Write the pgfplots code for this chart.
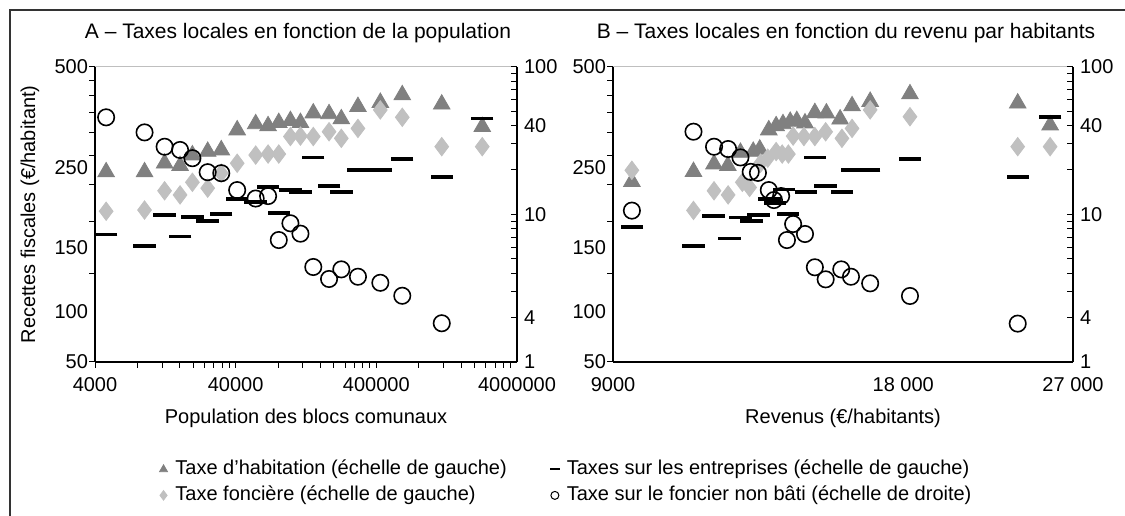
\documentclass[border=0pt]{standalone}
\usepackage{pgfplots}
\usepackage{pgfplotstable}
\pgfplotsset{compat=1.18}
\usepackage{fontspec}
\setmainfont{Liberation Sans}

\definecolor{thgray}{HTML}{808080}
\definecolor{tfgray}{HTML}{C0C0C0}

% panel A: groups of communes by population
\pgfplotstableread{
pop      th     tf     te     tnb
4800     220    162    135    45.4
9000     220    163.5  123.5  35.9
12500    235.5  190    157    28.7
16100    231    184    133    27.3
19700    251    203    155    24.0
25300    258    194    150    19.3
31600    261    218    158.5  19.0
41000    305    235.5  178    14.6
55500    320    251    174.5  12.8
68000    315    253    196    13.3
81000    323    253    160    6.7
98000    328    290    191    8.7
115500   323    291    188    7.4
142500   348    290    246    4.4
184500   346    301    197    3.65
225500   332.5  286    188    4.24
296000   366    309    223    3.78
427000   378    357    223    3.44
611600   401    337    243    2.81
1166800  373    268    212    1.83
2265000  313    268    334    nan
}\popdata

\pgfplotsset{
  every axis/.append style={scale only axis, height=147.65pt,
    major tick length=0pt, minor tick length=3pt,
    tick style={black, line width=0.5pt},
    axis line style={-, black, line width=0.6pt},
    tick label style={font=\fontsize{10}{12}\selectfont},
    label style={font=\fontsize{10}{12}\selectfont},
    /pgf/number format/assume math mode=true,
    clip=false},
}
\tikzset{
  sth/.style={only marks, mark=triangle*, mark size=4.8pt, mark options={fill=thgray, draw=thgray}},
  stf/.style={only marks, mark=diamond*, mark size=4.6pt, mark options={fill=tfgray, draw=tfgray}},
  ste/.style={only marks, mark=-, mark size=5.6pt, mark options={draw=black, line width=1.8pt}},
  stnb/.style={only marks, mark=o, mark size=4.1pt, mark options={draw=black, line width=0.8pt}},
}

\begin{document}
\begin{tikzpicture}
\useasboundingbox (0,0) rectangle (562.5pt,257.5pt);
\draw[line width=0.8pt, black!80] (5pt,-20pt) -- (5pt,252.5pt) -- (600pt,252.5pt);

% ---------- A ----------
\begin{axis}[at={(47.5pt,76.5pt)}, anchor=south west, width=211pt,
  xmode=log, ymode=log,
  axis x line*=bottom, axis y line*=left, tick align=outside,
  xmin=4000, xmax=4000000, ymin=50, ymax=500,
  xtick={4000,40000,400000,4000000}, xticklabels={4000,40000,400000,4000000},
  ytick={50,74.3,122,227.5,500}, yticklabels={50,100,150,250,500},
  minor ytick={50,100,150,200,250,300,350,400,450,500},
  xticklabel style={yshift=-4pt},
  xlabel={Population des blocs comunaux},
  xlabel style={at={(axis description cs:0.5,-0.19)}, anchor=center},
  ylabel={Recettes fiscales (€/habitant)},
  ylabel style={at={(axis description cs:-0.154,0.5)}, anchor=center},
  legend columns=2,
  legend cell align=left,
  legend image code/.code={\path (0cm,0cm) (0.25cm,0cm); \draw[#1] plot coordinates {(0.1cm,0cm)};},
  legend style={at={(axis description cs:0.147,-0.3217)}, anchor=north west,
    draw=none, fill=none, inner sep=0pt,
    font=\fontsize{10}{12}\selectfont,
    nodes={inner sep=1.5pt, text height=7pt, text depth=2pt},
    row sep=1pt,
    /tikz/every even column/.append style={column sep=19.5pt}},
]
\draw[black!25, line width=0.6pt] (rel axis cs:0,1) -- (rel axis cs:1,1);
\addplot[sth, forget plot] table[x=pop, y=th] {\popdata};
\addplot[stf, forget plot] table[x=pop, y=tf] {\popdata};
\addplot[ste, forget plot] table[x=pop, y=te] {\popdata};
\addlegendimage{only marks, mark=triangle*, mark size=2.3pt, mark options={fill=thgray, draw=thgray}}
\addlegendimage{only marks, mark=-, mark size=2.4pt, mark options={draw=black, line width=1pt}}
\addlegendimage{only marks, mark=diamond*, mark size=2.4pt, mark options={fill=tfgray, draw=tfgray}}
\addlegendimage{only marks, mark=o, mark size=2pt, mark options={draw=black, line width=0.5pt}}
\legend{Taxe d’habitation (échelle de gauche), Taxes sur les entreprises (échelle de gauche),
  Taxe foncière (échelle de gauche), Taxe sur le foncier non bâti (échelle de droite)}
\end{axis}
\begin{axis}[at={(47.5pt,76.5pt)}, anchor=south west, width=211pt,
  xmode=log, ymode=log,
  axis x line*=bottom, axis y line*=right, tick align=inside,
  xmin=4000, xmax=4000000, ymin=1, ymax=100,
  xtick=\empty, minor xtick={4000,40000,400000,4000000},
  ytick={1,2,10,40,100}, yticklabels={1,4,10,40,100},
  minor ytick={1,2,3,4,5,6,7,8,9,10,20,30,40,50,60,70,80,90,100}]
\addplot[stnb] table[x=pop, y=tnb] {\popdata};
\end{axis}

% ---------- B ----------
\begin{axis}[at={(306.5pt,76.5pt)}, anchor=south west, width=230pt,
  xmode=log, ymode=log,
  axis x line*=bottom, axis y line*=left, tick align=outside,
  xmin=9000, xmax=27000, ymin=50, ymax=500,
  xtick={9000,18000,27000}, xticklabels={9000,18 000,27 000},
  ytick={50,74.3,122,227.5,500}, yticklabels={50,100,150,250,500},
  minor ytick={50,100,150,200,250,300,350,400,450,500},
  xticklabel style={yshift=-4pt},
  xlabel={Revenus (€/habitants)},
  xlabel style={at={(axis description cs:0.5,-0.19)}, anchor=center},
]
\draw[black!25, line width=0.6pt] (rel axis cs:0,1) -- (rel axis cs:1,1);
\addplot[sth] coordinates {(9414,204) (10906,220.5) (11455,234) (11838,231) (12200,256)
  (12578,258) (12776,262.5) (13055,305) (13286,315) (13505,320) (13740,326) (13957,328)
  (14234,322) (14573,349) (14981,348) (15480,332) (15927,368) (16632,381) (18290,404)
  (23656,376) (25562,317)};
\addplot[stf] coordinates {(9414,223) (10906,163) (11455,190) (11846,184) (12255,203)
  (12470,195) (12799,235.5) (13022,245) (13286,258) (13480,253) (13680,253) (13836,291)
  (14198,290) (14573,290) (14954,301) (15548,286) (15927,309) (16632,357) (18290,338.5)
  (23656,268) (25562,268)};
\addplot[ste] coordinates {(9414,143) (10906,123.5) (11436,156) (11890,131) (12200,154.5)
  (12523,150) (12742,157) (13079,178) (13250,173) (13539,192) (13658,158.5) (14260,188)
  (14573,246) (14954,197) (15548,188) (15927,223) (16590,223) (18290,243) (23656,212)
  (25562,337)};
\end{axis}
\begin{axis}[at={(306.5pt,76.5pt)}, anchor=south west, width=230pt,
  xmode=log, ymode=log,
  axis x line*=bottom, axis y line*=right, tick align=inside,
  xmin=9000, xmax=27000, ymin=1, ymax=100,
  xtick=\empty, minor xtick={9000,18000,27000},
  ytick={1,2,10,40,100}, yticklabels={1,4,10,40,100},
  minor ytick={1,2,3,4,5,6,7,8,9,10,20,30,40,50,60,70,80,90,100}]
\addplot[stnb] coordinates {(9414,10.6) (10906,36.3) (11455,28.7) (11846,27.7) (12200,24.3)
  (12503,19.4) (12720,19.1) (13055,14.6) (13216,12.5) (13446,13.3) (13633,6.7) (13836,8.6)
  (14234,7.36) (14573,4.38) (14954,3.63) (15522,4.24) (15887,3.78) (16632,3.41) (18290,2.80)
  (23656,1.82)};
\end{axis}

\node[font=\fontsize{10.5}{12}\selectfont] at (149pt,241pt) {A – Taxes locales en fonction de la population};
\node[font=\fontsize{10.5}{12}\selectfont] at (423pt,241pt) {B – Taxes locales en fonction du revenu par habitants};
\end{tikzpicture}
\end{document}
